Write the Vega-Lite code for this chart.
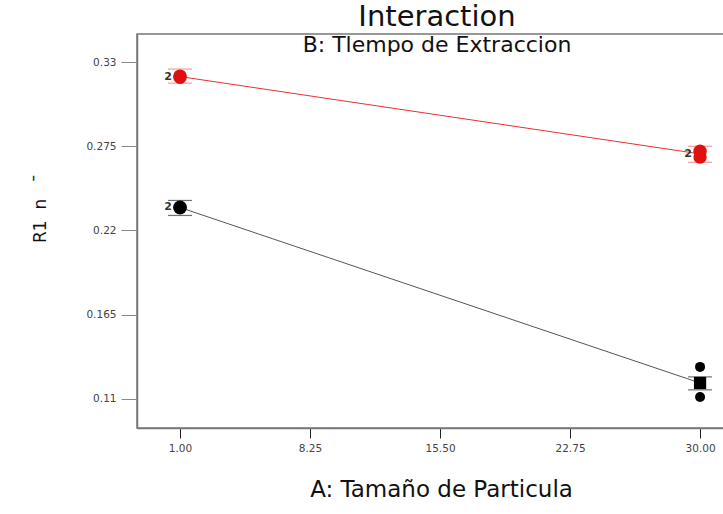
{
  "$schema": "https://vega.github.io/schema/vega-lite/v6.json",
  "width": 600,
  "height": 394,
  "autosize": {"type": "none"},
  "padding": {"left": 137, "top": 34, "right": 0, "bottom": 86},
  "background": "white",
  "config": {"view": {"stroke": "#777", "strokeWidth": 1.5}, "font": "DejaVu Sans"},
  "title": {
    "text": "Interaction",
    "subtitle": "B: Tlempo de Extraccion",
    "anchor": "middle",
    "frame": "group",
    "font": "DejaVu Sans",
    "fontSize": 29,
    "fontWeight": "normal",
    "color": "#111",
    "subtitleFont": "DejaVu Sans",
    "subtitleFontSize": 22,
    "subtitleColor": "#111",
    "subtitlePadding": 3,
    "offset": -22
  },
  "resolve": {"scale": {"color": "independent"}},
  "encoding": {
    "x": {
      "field": "A",
      "type": "quantitative",
      "scale": {"domain": [-1.398, 32.06], "nice": false, "zero": false},
      "axis": {
        "values": [1, 8.25, 15.5, 22.75, 30],
        "format": ".2f",
        "grid": false,
        "tickSize": 10,
        "tickColor": "#222",
        "domainColor": "#777",
        "domainWidth": 1.5,
        "labelFontSize": 10.5,
        "labelColor": "#444",
        "labelPadding": 5,
        "title": "A: Tamaño de Particula",
        "titleFontSize": 23,
        "titleFontWeight": "normal",
        "titleColor": "#111",
        "titleX": 304,
        "titleY": 61,
        "titleAlign": "center",
        "titleBaseline": "middle"
      }
    },
    "y": {
      "field": "R1",
      "type": "quantitative",
      "scale": {"domain": [0.091, 0.3483], "nice": false, "zero": false},
      "axis": {
        "values": [0.11, 0.165, 0.22, 0.275, 0.33],
        "format": ".3~f",
        "grid": false,
        "tickSize": 16,
        "tickColor": "#888",
        "domainColor": "#777",
        "domainWidth": 1.5,
        "labelFontSize": 10.5,
        "labelColor": "#444",
        "labelPadding": 5,
        "title": "R1\u00a0\u00a0n\u00a0\u00a0\u00a0¯",
        "titleFontSize": 17,
        "titleFontWeight": "normal",
        "titleColor": "#111",
        "titleX": -97,
        "titleY": 174,
        "titleAlign": "center",
        "titleBaseline": "middle"
      }
    }
  },
  "layer": [
    {
      "data": {"values": [
        {"A": 1, "R1": 0.3205, "B": "B+"},
        {"A": 30, "R1": 0.2700, "B": "B+"},
        {"A": 1, "R1": 0.2350, "B": "B-"},
        {"A": 30, "R1": 0.1204, "B": "B-"}
      ]},
      "mark": {"type": "line", "strokeWidth": 1},
      "encoding": {
        "color": {
          "field": "B",
          "type": "nominal",
          "scale": {"domain": ["B-", "B+"], "range": ["#555555", "#e83030"]},
          "legend": null
        }
      }
    },
    {
      "data": {"values": [
        {"A": 1, "R1": 0.3254, "B": "B+"},
        {"A": 1, "R1": 0.3162, "B": "B+"},
        {"A": 30, "R1": 0.2750, "B": "B+"},
        {"A": 30, "R1": 0.2645, "B": "B+"},
        {"A": 1, "R1": 0.2396, "B": "B-"},
        {"A": 1, "R1": 0.2298, "B": "B-"},
        {"A": 30, "R1": 0.1244, "B": "B-"},
        {"A": 30, "R1": 0.1159, "B": "B-"}
      ]},
      "mark": {"type": "tick", "orient": "horizontal", "size": 24, "thickness": 1.2},
      "encoding": {
        "color": {
          "field": "B",
          "type": "nominal",
          "scale": {"domain": ["B-", "B+"], "range": ["#333333", "#ee7070"]},
          "legend": null
        }
      }
    },
    {
      "data": {"values": [
        {"A": 30, "R1": 0.1204, "B": "B-"}
      ]},
      "mark": {"type": "square", "size": 150, "opacity": 1, "filled": true, "color": "#000000"}
    },
    {
      "data": {"values": [
        {"A": 1, "R1": 0.3208, "B": "B+", "n": 15},
        {"A": 1, "R1": 0.3200, "B": "B+", "n": 15},
        {"A": 30, "R1": 0.2718, "B": "B+", "n": 15},
        {"A": 30, "R1": 0.2680, "B": "B+", "n": 15},
        {"A": 1, "R1": 0.2352, "B": "B-", "n": 15},
        {"A": 1, "R1": 0.2348, "B": "B-", "n": 15},
        {"A": 30, "R1": 0.1309, "B": "B-", "n": 11},
        {"A": 30, "R1": 0.1113, "B": "B-", "n": 11}
      ]},
      "mark": {"type": "circle", "opacity": 1},
      "encoding": {
        "color": {
          "field": "B",
          "type": "nominal",
          "scale": {"domain": ["B-", "B+"], "range": ["#000000", "#e01010"]},
          "legend": null
        },
        "size": {"field": "n", "type": "quantitative", "scale": {"type": "linear", "domain": [11, 15], "range": [100, 180]}, "legend": null}
      }
    },
    {
      "data": {"values": [
        {"A": 1, "R1": 0.3204, "B": "B+", "label": "2"},
        {"A": 30, "R1": 0.2700, "B": "B+", "label": "2"},
        {"A": 1, "R1": 0.2352, "B": "B-", "label": "2"}
      ]},
      "mark": {"type": "text", "dx": -12, "fontSize": 11, "fontWeight": "bold", "color": "#333", "baseline": "middle", "align": "center"},
      "encoding": {
        "text": {"field": "label", "type": "nominal"}
      }
    }
  ]
}
